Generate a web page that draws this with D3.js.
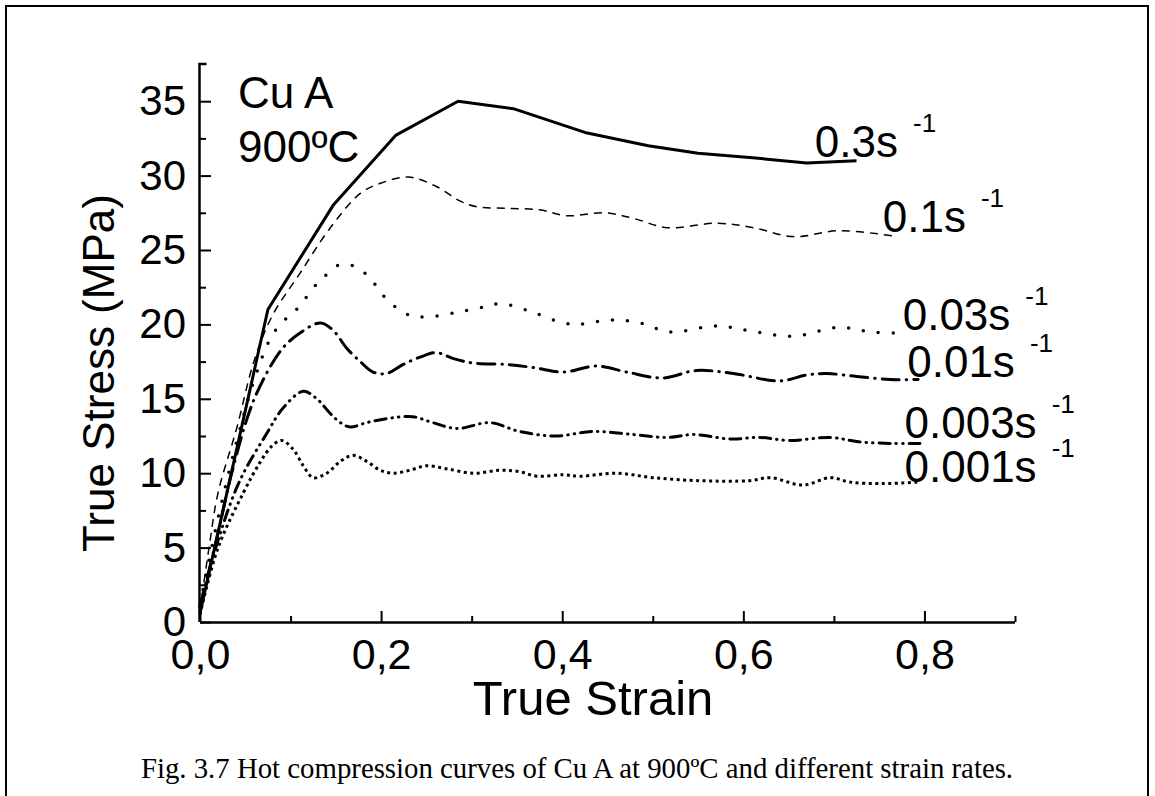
<!DOCTYPE html>
<html>
<head>
<meta charset="utf-8">
<script src="https://cdn.jsdelivr.net/npm/d3@7"></script>
<style>
  body { margin: 0; background: #fff; }
  text { font-family: "Liberation Sans", Arial, sans-serif; fill: #000; }
</style>
</head>
<body>
<svg id="chart"></svg>
<script>
const width = 1155;
const height = 796;

// strain rates (s^-1) and their curves, [true strain, true stress MPa]
const rates = ["0.3", "0.1", "0.03", "0.01", "0.003", "0.001"];

const curve03 = [[0,0.6],[0.075,21.0],[0.147,28.0],[0.216,32.7],[0.285,35.0],[0.346,34.5],[0.425,32.9],
  [0.495,32.0],[0.55,31.5],[0.61,31.2],[0.67,30.85],[0.725,31.0]];

const curve01 = [[0,0.8],[0.01,5],[0.02,8.7],[0.04,12.9],[0.06,17.6],[0.08,20.6],[0.11,23.4],[0.144,26.5],
  [0.177,28.8],[0.2,29.5],[0.23,29.9],[0.26,29.3],[0.287,28.3],[0.306,27.9],[0.34,27.8],[0.375,27.7],
  [0.405,27.3],[0.447,27.5],[0.48,27.1],[0.516,26.5],[0.571,26.8],[0.611,26.5],[0.655,25.9],[0.707,26.3],[0.77,25.9]];

const curve003 = [[0,1.2],[0.02,7],[0.04,12],[0.06,16.3],[0.08,19.3],[0.097,20.5],[0.11,21.2],[0.123,22.3],
  [0.137,23.2],[0.154,24.0],[0.171,23.9],[0.188,23.1],[0.2,22.1],[0.215,21.2],[0.232,20.6],[0.25,20.5],
  [0.283,20.8],[0.316,21.2],[0.333,21.4],[0.368,20.8],[0.401,20.1],[0.417,20.0],[0.453,20.3],[0.486,20.1],
  [0.519,19.5],[0.571,19.9],[0.604,19.6],[0.655,19.2],[0.705,19.8],[0.74,19.5],[0.775,19.4]];

const curve001 = [[0,1],[0.02,6],[0.035,10],[0.06,15],[0.09,18.3],[0.11,19.4],[0.133,20.1],[0.147,19.6],
  [0.162,18.4],[0.177,17.5],[0.191,16.8],[0.206,16.7],[0.224,17.3],[0.243,17.8],[0.261,18.1],[0.28,17.7],
  [0.302,17.4],[0.339,17.3],[0.368,17.1],[0.401,16.8],[0.438,17.2],[0.471,16.8],[0.511,16.4],[0.548,16.9],
  [0.589,16.7],[0.64,16.2],[0.67,16.6],[0.692,16.7],[0.725,16.5],[0.762,16.3],[0.793,16.3]];

const curve0003 = [[0,1],[0.02,5.5],[0.044,9.5],[0.074,12.7],[0.092,14.4],[0.114,15.5],[0.129,15.0],
  [0.144,14.0],[0.155,13.4],[0.166,13.1],[0.184,13.4],[0.21,13.7],[0.235,13.8],[0.257,13.4],[0.284,13.0],
  [0.32,13.4],[0.353,12.8],[0.392,12.5],[0.434,12.8],[0.478,12.6],[0.516,12.4],[0.545,12.6],[0.585,12.3],
  [0.618,12.4],[0.651,12.2],[0.696,12.4],[0.729,12.1],[0.765,12.0],[0.795,12.0]];

const curve0001 = [[0,0.5],[0.02,5],[0.048,8.7],[0.066,10.7],[0.079,11.8],[0.09,12.2],[0.103,11.6],
  [0.114,10.5],[0.125,9.7],[0.14,10.0],[0.155,10.8],[0.169,11.2],[0.184,10.8],[0.199,10.2],[0.213,10.0],
  [0.232,10.2],[0.25,10.5],[0.272,10.3],[0.302,10.0],[0.331,10.2],[0.353,10.1],[0.372,9.8],[0.401,9.9],
  [0.42,9.8],[0.46,10.0],[0.5,9.7],[0.55,9.5],[0.607,9.5],[0.63,9.7],[0.666,9.2],[0.696,9.7],[0.718,9.4],
  [0.754,9.3],[0.792,9.4]];

const curves = [curve03, curve01, curve003, curve001, curve0003, curve0001];

// where each rate label sits, in strain / stress units
const labelAt = [[0.679,31.24],[0.754,26.2],[0.776,19.6],[0.781,16.46],[0.778,12.36],[0.778,9.4]];

const yTicks = [0, 5, 10, 15, 20, 25, 30, 35];
const xTicks = [0, 0.2, 0.4, 0.6, 0.8];

// line look per curve
const styles = [
  {w: 3, dash: null, cap: "butt", smooth: false},
  {w: 1.5, dash: "8 6", cap: "butt", smooth: true},
  {w: 3.5, dash: "0 15", cap: "round", smooth: true},
  {w: 3, dash: "17 7 0.5 7", cap: "round", smooth: true},
  {w: 3, dash: "11 6 0.5 6 0.5 6", cap: "round", smooth: true},
  {w: 3, dash: "3 3.5", cap: "butt", smooth: true}
];

const svg = d3.select("#chart")
  .attr("width", width)
  .attr("height", height);

svg.append("rect").attr("width", width).attr("height", height).attr("fill", "#fff");

// page frame
svg.append("rect")
  .attr("x", 6).attr("y", 6)
  .attr("width", 1142).attr("height", 820)
  .attr("fill", "none").attr("stroke", "#000").attr("stroke-width", 2);

const x = d3.scaleLinear().domain([0, 0.9]).range([200, 1015]);
const y = d3.scaleLinear().domain([0, 37.5]).range([622, 64]);

// y axis: minor + major ticks pointing inward
svg.append("g")
  .attr("transform", "translate(200,0)")
  .call(d3.axisLeft(y).tickValues(d3.range(2.5, 37.5, 5)).tickSize(-6).tickFormat(""))
  .call(g => g.select(".domain").remove())
  .selectAll("line").attr("stroke-width", 2);

svg.append("g")
  .attr("transform", "translate(200,0)")
  .call(d3.axisLeft(y).tickValues(yTicks).tickSizeInner(-11).tickSizeOuter(-11).tickPadding(14))
  .call(g => g.select(".domain").attr("stroke-width", 2.5).attr("d", "M-0.5," + y(0) + "V" + y(37.5) + "h7"))
  .call(g => g.selectAll("line").attr("stroke-width", 2))
  .call(g => g.selectAll("text").style("font-size", "42px").attr("fill", "#000"));

// x axis
svg.append("g")
  .attr("transform", "translate(0,622)")
  .call(d3.axisBottom(x).tickValues([0.1, 0.3, 0.5, 0.7, 0.9]).tickSize(-6).tickFormat(""))
  .call(g => g.select(".domain").remove())
  .selectAll("line").attr("stroke-width", 2);

svg.append("g")
  .attr("transform", "translate(0,622)")
  .call(d3.axisBottom(x).tickValues(xTicks).tickSize(-11).tickPadding(16)
    .tickFormat(d => d3.format(".1f")(d).replace(".", ",")))
  .call(g => g.select(".domain").attr("stroke-width", 2.5).attr("d", "M" + x(0) + ",0.5H" + x(0.9)))
  .call(g => g.selectAll("line").attr("stroke-width", 2))
  .call(g => g.selectAll("text").style("font-size", "43px").attr("fill", "#000"));

// curves
curves.forEach((data, i) => {
  const st = styles[i];
  const line = d3.line()
    .x(d => x(d[0]))
    .y(d => y(d[1]))
    .curve(st.smooth ? d3.curveCatmullRom.alpha(0.5) : d3.curveLinear);
  svg.append("path")
    .datum(data)
    .attr("d", line)
    .attr("fill", "none")
    .attr("stroke", "#000")
    .attr("stroke-width", st.w)
    .attr("stroke-linecap", st.cap)
    .attr("stroke-linejoin", "round")
    .attr("stroke-dasharray", st.dash);
});

// rate labels with superscript -1
rates.forEach((r, i) => {
  const t = svg.append("text")
    .attr("x", x(labelAt[i][0]))
    .attr("y", y(labelAt[i][1]))
    .style("font-size", "44px")
    .text(r + "s");
  t.append("tspan")
    .attr("dx", 15)
    .attr("dy", -25)
    .style("font-size", "26px")
    .text("-1");
});

// material / temperature
svg.append("text").attr("x", 238).attr("y", 108).style("font-size", "44px").text("Cu A");
svg.append("text").attr("x", 238).attr("y", 162).style("font-size", "44px").text("900ºC");

// axis titles
svg.append("text")
  .attr("transform", "translate(114,373) rotate(-90)")
  .attr("text-anchor", "middle")
  .style("font-size", "44px")
  .text("True Stress (MPa)");

svg.append("text")
  .attr("x", 593).attr("y", 715)
  .attr("text-anchor", "middle")
  .style("font-size", "49px")
  .text("True Strain");

// figure caption
svg.append("text")
  .attr("x", 577).attr("y", 778)
  .attr("text-anchor", "middle")
  .style("font-family", "'Liberation Serif', 'Times New Roman', serif")
  .style("font-size", "28.8px")
  .text("Fig. 3.7 Hot compression curves of Cu A at 900ºC and different strain rates.");
</script>
</body>
</html>
